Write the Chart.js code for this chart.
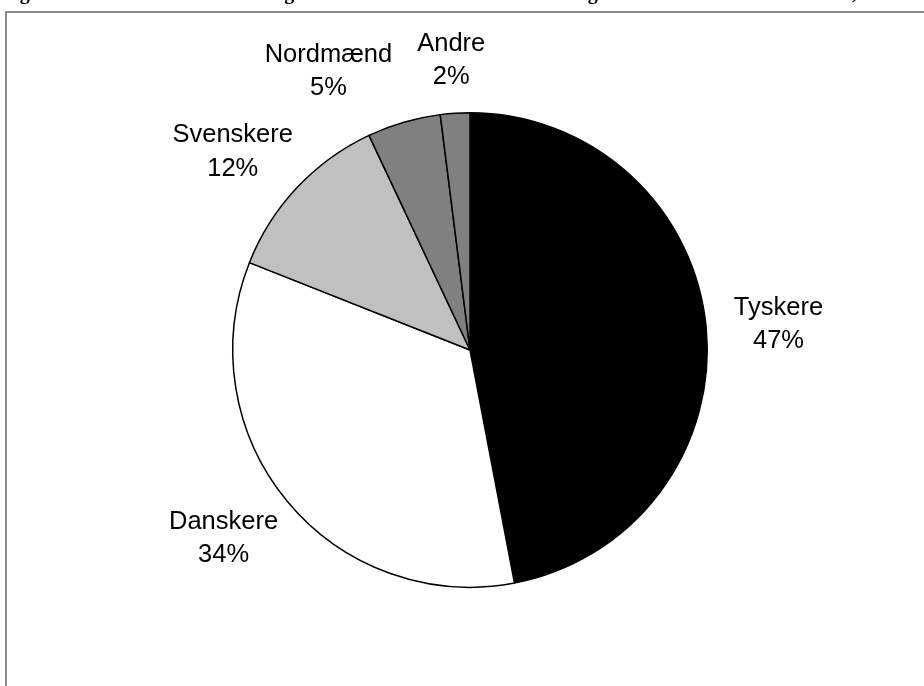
<!DOCTYPE html>
<html lang="da">
<head>
<meta charset="utf-8">
<title>Overnatninger efter nationalitet</title>
<script src="https://cdn.jsdelivr.net/npm/chart.js@4.4.1/dist/chart.umd.min.js"></script>
<style>
    html, body { margin: 0; padding: 0; background: #fff; overflow: hidden; }
    #wrap { position: relative; width: 924px; height: 686px; }
    #frame {
        position: absolute; left: 5px; top: 11px;
        width: 1000px; height: 1000px;
        border: 2px solid #8c8c8c; box-sizing: border-box;
    }
    #pie { position: absolute; left: 0; top: 0; }
</style>
</head>
<body>
<div id="wrap">
    <div id="frame"></div>
    <canvas id="pie" width="924" height="686"></canvas>
</div>
<script>
(function () {
    "use strict";

    const categories   = ["Tyskere", "Danskere", "Svenskere", "Nordmænd", "Andre"];
    const shares       = [47, 34, 12, 5, 2];
    const sliceColours = ["#000000", "#ffffff", "#c0c0c0", "#808080", "#808080"];
    const titleText    = "Figur 3. Udenlandske overnatninger fordelt efter deres nationalitet og turistområde i hele Danmark, 2004";

    const LABEL_SIZE = 25.5;
    const LABEL_FONT = LABEL_SIZE + 'px "Liberation Sans", Arial, sans-serif';
    const LINE_GAP   = 33.5;

    // figure heading sits above the page edge, only its descenders show
    const headingPlugin = {
        id: "heading",
        beforeDraw(chart) {
            const ctx = chart.ctx;
            ctx.save();
            ctx.font = 'bold 20px "Liberation Serif", "Times New Roman", serif';
            ctx.fillStyle = "#000";
            ctx.textBaseline = "alphabetic";
            ctx.fillText(titleText, 2, -1);
            ctx.restore();
        }
    };

    // two-line "name / pct" labels placed just outside each slice
    const outsideLabels = {
        id: "outsideLabels",
        afterDatasetsDraw(chart) {
            const ctx = chart.ctx;
            const arcs = chart.getDatasetMeta(0).data;
            ctx.save();
            ctx.font = LABEL_FONT;
            ctx.fillStyle = "#000";

            const boxes = arcs.map((arc, i) => {
                const p = arc.getProps(["x", "y", "startAngle", "endAngle", "outerRadius"], true);
                const mid = (p.startAngle + p.endAngle) / 2;
                const dx = Math.cos(mid), dy = Math.sin(mid);
                const lines = [categories[i], shares[i] + "%"];
                const halfW = Math.max(...lines.map(t => ctx.measureText(t).width)) / 2;
                const halfH = 27;
                const R = p.outerRadius + 28;
                return {
                    lines, halfW, halfH, dx,
                    cx: p.x + dx * (R + halfW),
                    cy: p.y + dy * (R + halfH)
                };
            });

            // push left-side labels apart when they collide with the next one
            for (let i = boxes.length - 2; i >= 0; i--) {
                const a = boxes[i], b = boxes[i + 1];
                if (a.dx >= 0 || b.dx >= 0) continue;
                const overlapY = Math.abs(a.cy - b.cy) < a.halfH + b.halfH;
                const overlapX = Math.abs(a.cx - b.cx) < a.halfW + b.halfW;
                if (overlapY && overlapX) {
                    a.cx = b.cx - b.halfW - 25 - a.halfW;
                }
            }

            ctx.textAlign = "center";
            ctx.textBaseline = "alphabetic";
            const capHalf = LABEL_SIZE * 0.358;
            boxes.forEach(b => {
                ctx.fillText(b.lines[0], b.cx, b.cy - LINE_GAP / 2 + capHalf);
                ctx.fillText(b.lines[1], b.cx, b.cy + LINE_GAP / 2 + capHalf);
            });
            ctx.restore();
        }
    };

    function renderPie() {
        const ctx = document.getElementById("pie").getContext("2d");
        new Chart(ctx, {
            type: "pie",
            data: {
                labels: categories,
                datasets: [{
                    data: shares,
                    backgroundColor: sliceColours,
                    borderColor: "#000",
                    borderWidth: 1.5
                }]
            },
            options: {
                responsive: false,
                animation: false,
                events: [],
                layout: { padding: { top: 112, bottom: 98, left: 232, right: 216 } },
                plugins: {
                    legend: { display: false },
                    tooltip: { enabled: false },
                    title: { display: false }
                }
            },
            plugins: [headingPlugin, outsideLabels]
        });
    }

    if (document.readyState === "loading") {
        document.addEventListener("DOMContentLoaded", renderPie);
    } else {
        renderPie();
    }
})();
</script>
</body>
</html>
